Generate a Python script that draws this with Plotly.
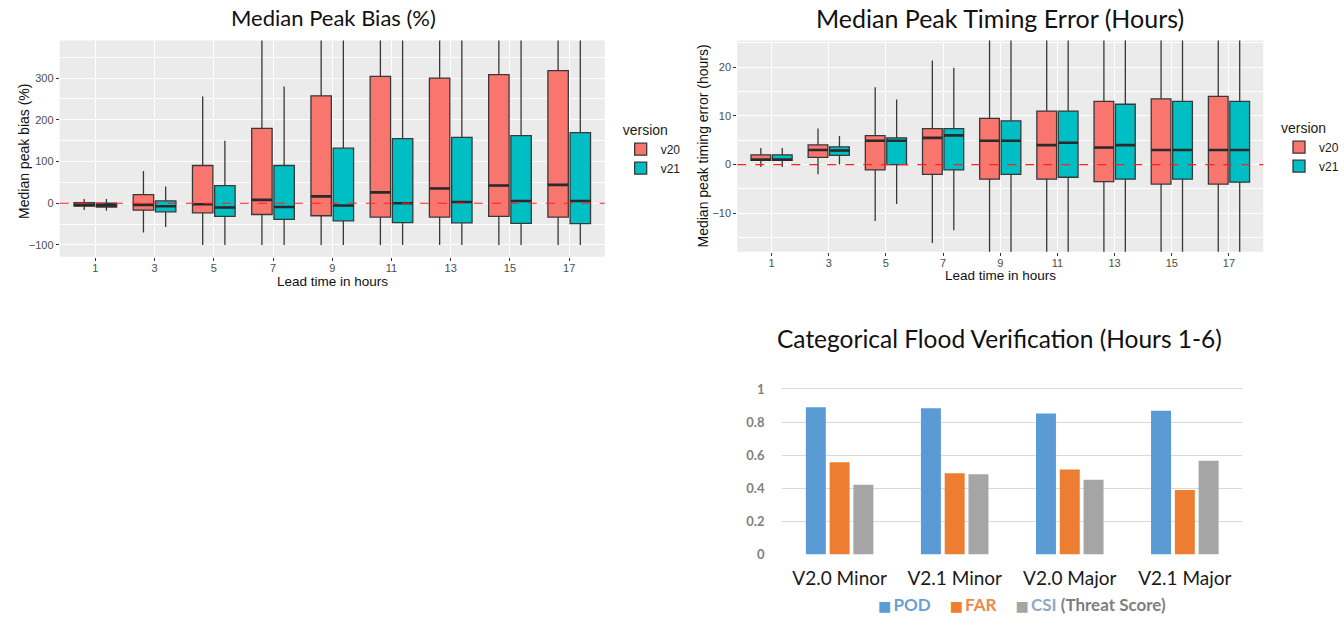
import plotly.graph_objects as go

W, H = 1344, 625

# ---- data -------------------------------------------------------------
leads = ["1", "3", "5", "7", "9", "11", "13", "15", "17"]

# Median peak bias (%) box statistics
bias_v20_lo = [-16, -70, -100, -100, -100, -100, -100, -100, -100]
bias_v20_q1 = [-7, -16.5, -23, -27, -30, -33, -33, -31.5, -33]
bias_v20_med = [-4, -4, -2.5, 8, 16.5, 26, 35.5, 42.5, 44]
bias_v20_q3 = [1.5, 20.5, 90.5, 179.5, 257.5, 304, 300, 308, 318]
bias_v20_hi = [10, 77, 256, 600, 600, 600, 600, 600, 600]

bias_v21_lo = [-18, -57, -100, -100, -100, -100, -100, -100, -100]
bias_v21_q1 = [-9, -20.5, -31.5, -38.5, -42, -46.5, -47, -48, -49]
bias_v21_med = [-5, -7, -10, -9, -5.5, 0, 3, 5.5, 5.5]
bias_v21_q3 = [0, 5.5, 42, 90.5, 132, 155, 158, 162, 169]
bias_v21_hi = [10, 40, 150, 280, 600, 600, 600, 600, 600]

# Median peak timing error (hours) box statistics
time_v20_lo = [-0.5, -2.0, -11.6, -16.1, -30, -30, -30, -30, -30]
time_v20_q1 = [0.9, 1.5, -1.1, -2.0, -3.0, -3.0, -3.5, -4.0, -4.0]
time_v20_med = [1.0, 3.0, 4.9, 5.5, 4.9, 4.0, 3.5, 3.0, 3.0]
time_v20_q3 = [2.0, 4.05, 5.95, 7.4, 9.5, 11.0, 13.0, 13.5, 14.0]
time_v20_hi = [3.4, 7.4, 15.9, 21.4, 40, 40, 40, 40, 40]

time_v21_lo = [-0.5, 0.0, -8.1, -13.5, -30, -30, -30, -30, -30]
time_v21_q1 = [0.9, 1.9, 0.0, -1.1, -2.0, -2.6, -3.0, -3.0, -3.6]
time_v21_med = [1.0, 2.9, 4.9, 6.0, 4.9, 4.5, 4.0, 3.0, 3.0]
time_v21_q3 = [2.0, 3.65, 5.5, 7.4, 9.0, 11.0, 12.4, 13.0, 13.0]
time_v21_hi = [3.4, 5.9, 13.4, 19.9, 40, 40, 40, 40, 40]

# Categorical flood verification scores
flood_cats = ["V2.0 Minor", "V2.1 Minor", "V2.0 Major", "V2.1 Major"]
pod = [0.889, 0.883, 0.851, 0.869]
far = [0.557, 0.491, 0.513, 0.390]
csi = [0.421, 0.485, 0.451, 0.567]

# ---- styling ----------------------------------------------------------
C_V20 = "#F8766D"
C_V21 = "#00BFC4"
EDGE = "#383838"
GG_FONT = "Liberation Sans"
TITLE_FONT = "Lato"
DODGE = 0.1875      # half-distance between dodged boxes (category units)
BOX_W = 0.345       # box width (category units)


def px_x(p):
    return p / W


def px_y(p):
    return 1 - p / H


fig = go.Figure()


def add_boxes(stats, name, color, offset, xa, ya, legend):
    lo, q1, med, q3, hi = stats
    pos = [i + offset for i in range(len(leads))]
    fig.add_trace(go.Box(
        x=pos, q1=q1, median=med, q3=q3, lowerfence=lo, upperfence=hi,
        width=BOX_W, whiskerwidth=0, boxpoints=False,
        fillcolor=color, line=dict(color=EDGE, width=1.3),
        name=name, legend=legend, showlegend=True,
        xaxis=xa, yaxis=ya, hoverinfo="skip",
    ))
    # thicker median bar, as in ggplot's geom_boxplot
    mx, my = [], []
    for p, m in zip(pos, med):
        mx += [p - BOX_W / 2, p + BOX_W / 2, None]
        my += [m, m, None]
    fig.add_trace(go.Scatter(
        x=mx, y=my, mode="lines", line=dict(color="#2a2a2a", width=2.6),
        showlegend=False, xaxis=xa, yaxis=ya, hoverinfo="skip",
    ))


add_boxes((bias_v20_lo, bias_v20_q1, bias_v20_med, bias_v20_q3, bias_v20_hi),
          "v20", C_V20, -DODGE, "x", "y", "legend")
add_boxes((bias_v21_lo, bias_v21_q1, bias_v21_med, bias_v21_q3, bias_v21_hi),
          "v21", C_V21, DODGE, "x", "y", "legend")
add_boxes((time_v20_lo, time_v20_q1, time_v20_med, time_v20_q3, time_v20_hi),
          "v20", C_V20, -DODGE, "x2", "y2", "legend2")
add_boxes((time_v21_lo, time_v21_q1, time_v21_med, time_v21_q3, time_v21_hi),
          "v21", C_V21, DODGE, "x2", "y2", "legend2")

bar_specs = [
    ("POD", pod, "#5B9BD5", "#6A9FD6", "POD"),
    ("FAR", far, "#ED7D31", "#EA8A4A", "FAR"),
    ("CSI", csi, "#A5A5A5", "#8FA8C6", "CSI"),
]
for key, vals, col, txtcol, label in bar_specs:
    fig.add_trace(go.Bar(
        x=flood_cats, y=vals, name=label, marker=dict(color=col, line=dict(width=0)),
        xaxis="x3", yaxis="y3", showlegend=False, hoverinfo="skip",
    ))

# compact key row under the bar chart
key_parts = []
for key, vals, col, txtcol, label in bar_specs:
    part = (f"<span style='color:{col};font-family:DejaVu Sans;font-size:14px'>■</span>"
            f"\u2009<span style='color:{txtcol}'>{label}</span>")
    if key == "CSI":
        part += " (Threat Score)"
    key_parts.append(part)
bar_key = "\u2002\u2002\u2009".join(key_parts)

# ---- axes -------------------------------------------------------------
gg_x = dict(
    tickmode="array", tickvals=list(range(len(leads))), ticktext=leads,
    range=[-0.6, 8.6], showgrid=True, gridcolor="white", gridwidth=1.3,
    zeroline=False, showline=False, ticks="outside", ticklen=3,
    tickcolor="#333333", tickwidth=1, ticklabelstandoff=-2,
    tickfont=dict(family=GG_FONT, size=11, color="#4D4D4D"),
)
gg_y = dict(
    showgrid=True, gridcolor="white", gridwidth=1.3, zeroline=False,
    showline=False, ticks="outside", ticklen=3, tickcolor="#333333",
    tickwidth=1, tickfont=dict(family=GG_FONT, size=11, color="#4D4D4D"),
)

fig.update_layout(
    xaxis=dict(gg_x, domain=[px_x(60), px_x(607)], anchor="y"),
    yaxis=dict(gg_y, domain=[px_y(260), px_y(41)], anchor="x",
               range=[-128, 390], tickvals=[-100, 0, 100, 200, 300],
               minor=dict(tickvals=[-50, 50, 150, 250, 350], showgrid=True,
                          gridcolor="white", gridwidth=0.6, ticks="")),
    xaxis2=dict(gg_x, domain=[px_x(740), px_x(1268)], anchor="y2"),
    yaxis2=dict(gg_y, domain=[px_y(255), px_y(41)], anchor="x2",
                range=[-17.9, 25.5], tickvals=[-10, 0, 10, 20],
                minor=dict(tickvals=[-15, -5, 5, 15, 25], showgrid=True,
                           gridcolor="white", gridwidth=0.6, ticks="")),
    xaxis3=dict(domain=[px_x(785), px_x(1247)], anchor="y3", showgrid=False,
                zeroline=False, showline=False, ticks="outside", ticklen=7,
                tickcolor="rgba(0,0,0,0)",
                tickfont=dict(family=TITLE_FONT, size=19, color="#1a1a1a")),
    yaxis3=dict(domain=[px_y(561.7), px_y(385.6)], anchor="x3", range=[0, 1.05],
                tickvals=[0, 0.2, 0.4, 0.6, 0.8, 1], ticktext=["0", "0.2", "0.4", "0.6", "0.8", "1"],
                showgrid=True, gridcolor="#D9D9D9", gridwidth=1.2, zeroline=False,
                showline=False, ticks="outside", ticklen=14, tickcolor="rgba(0,0,0,0)",
                tickfont=dict(family=TITLE_FONT, size=13, color="#808080", weight="bold")),
    barmode="group", bargap=0.38, bargroupgap=0.16,
    boxmode="overlay",
    width=W, height=H, margin=dict(l=0, r=0, t=0, b=0),
    paper_bgcolor="white", plot_bgcolor="rgba(0,0,0,0)",
    legend=dict(x=px_x(623), y=px_y(118), xanchor="left", yanchor="top",
                title=dict(text="version", font=dict(family=GG_FONT, size=14, color="#1a1a1a")),
                font=dict(family=GG_FONT, size=12, color="#1a1a1a"),
                bgcolor="rgba(0,0,0,0)", itemwidth=30, tracegroupgap=0),
    legend2=dict(x=px_x(1284), y=px_y(116), xanchor="left", yanchor="top",
                 title=dict(text="version", font=dict(family=GG_FONT, size=14, color="#1a1a1a")),
                 font=dict(family=GG_FONT, size=12, color="#1a1a1a"),
                 bgcolor="rgba(0,0,0,0)", itemwidth=30, tracegroupgap=0),
    showlegend=True,
)

# grey ggplot panels and red zero reference lines
shapes = []
for xa, ya in (("x", "y"), ("x2", "y2")):
    shapes.append(dict(type="rect", xref=f"{xa} domain", yref=f"{ya} domain",
                       x0=0, x1=1, y0=0, y1=1, fillcolor="#EBEBEB",
                       line=dict(width=0), layer="below"))
    shapes.append(dict(type="line", xref=f"{xa} domain", yref=ya, x0=0, x1=1,
                       y0=0, y1=0, line=dict(color="#FF2020", width=1.2, dash="dash"),
                       layer="above"))
fig.update_layout(shapes=shapes)

# titles, axis labels and the bar key
ann = [
    dict(text="Median Peak Bias (%)", x=335, y=18, size=22, font=TITLE_FONT, angle=0, color="#111111", bold=False),
    dict(text="Median Peak Timing Error (Hours)", x=1004, y=18, size=25, font=TITLE_FONT, angle=0, color="#111111", bold=False),
    dict(text="Categorical Flood Verification (Hours 1-6)", x=1003, y=343, size=24.5, font=TITLE_FONT, angle=0, color="#111111", bold=False),
    dict(text="Lead time in hours", x=333.5, y=285, size=13.5, font=GG_FONT, angle=0, color="#111111", bold=False),
    dict(text="Lead time in hours", x=1004, y=279, size=13.5, font=GG_FONT, angle=0, color="#111111", bold=False),
    dict(text="Median peak bias (%)", x=24, y=153, size=14, font=GG_FONT, angle=-90, color="#111111", bold=False),
    dict(text="Median peak timing error (hours)", x=706, y=148, size=14, font=GG_FONT, angle=-90, color="#111111", bold=False),
    dict(text=bar_key, x=1026, y=612, size=17, font=TITLE_FONT, angle=0, color="#7F7F7F", bold=True),
]
for a in ann:
    fig.add_annotation(text=a["text"], x=px_x(a["x"]), y=px_y(a["y"]), xref="paper", yref="paper",
                       xanchor="center", yanchor="middle", showarrow=False,
                       textangle=a["angle"],
                       font=dict(family=a["font"], size=a["size"], color=a["color"],
                                 weight="bold" if a["bold"] else "normal"))

fig.write_html("out.html")
